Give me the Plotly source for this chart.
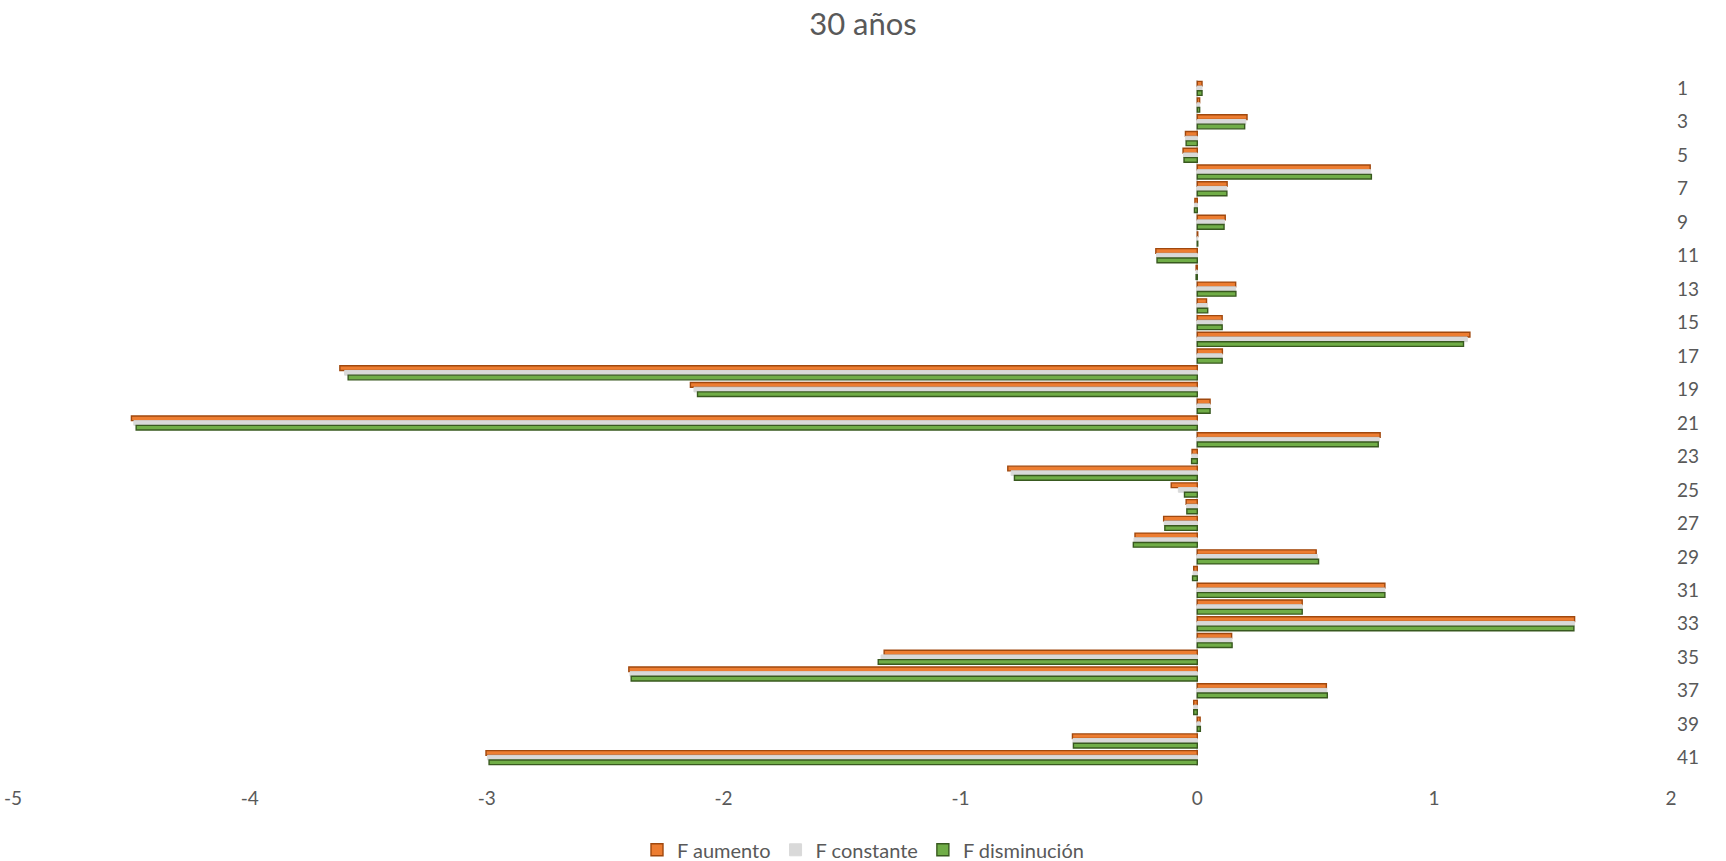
import plotly.graph_objects as go

categories = list(range(1, 42))

f_aumento = [0.02, 0.01, 0.21, -0.05, -0.06, 0.73, 0.126, -0.01, 0.118, 0.002,
             -0.175, -0.005, 0.162, 0.039, 0.105, 1.151, 0.106, -3.62, -2.14, 0.054,
             -4.50, 0.772, -0.022, -0.80, -0.11, -0.047, -0.142, -0.263, 0.502, -0.015,
             0.792, 0.443, 1.593, 0.145, -1.322, -2.40, 0.545, -0.015, 0.012, -0.527,
             -3.003]
f_constante = [0.02, 0.01, 0.205, -0.05, -0.058, 0.732, 0.125, -0.011, 0.115, 0.002,
               -0.172, -0.005, 0.162, 0.042, 0.105, 1.14, 0.105, -3.60, -2.125, 0.054,
               -4.49, 0.768, -0.023, -0.786, -0.08, -0.045, -0.14, -0.267, 0.507, -0.018,
               0.792, 0.443, 1.592, 0.146, -1.335, -2.395, 0.547, -0.015, 0.012, -0.525,
               -2.997]
f_disminucion = [0.02, 0.01, 0.20, -0.047, -0.056, 0.735, 0.125, -0.012, 0.113, 0.002,
                 -0.17, -0.005, 0.163, 0.044, 0.105, 1.124, 0.105, -3.585, -2.11, 0.054,
                 -4.48, 0.764, -0.024, -0.772, -0.054, -0.044, -0.137, -0.27, 0.512, -0.02,
                 0.792, 0.443, 1.590, 0.147, -1.347, -2.39, 0.549, -0.015, 0.013, -0.523,
                 -2.99]

x_ticks = [-5, -4, -3, -2, -1, 0, 1, 2]
y_ticks = list(range(1, 42, 2))

FONT = "Lato, Carlito, Calibri, sans-serif"

fig = go.Figure()
fig.add_trace(go.Bar(y=categories, x=f_aumento, orientation="h", name="F aumento",
                     marker=dict(color="#ED7D31", line=dict(color="#A0480E", width=1.4))))
fig.add_trace(go.Bar(y=categories, x=f_constante, orientation="h", name="F constante",
                     marker=dict(color="#D9D9D9", line=dict(color="#D9D9D9", width=1))))
fig.add_trace(go.Bar(y=categories, x=f_disminucion, orientation="h", name="F disminución",
                     marker=dict(color="#70AD47", line=dict(color="#38591F", width=1.4))))

fig.update_layout(
    width=1726, height=861,
    paper_bgcolor="white", plot_bgcolor="white",
    barmode="group", bargap=0.16, bargroupgap=0.0,
    font=dict(family=FONT, color="#595959", size=18),
    title=dict(text="30 años", x=0.5, xanchor="center", y=0.972, yanchor="middle",
               font=dict(size=31, color="#595959", family=FONT)),
    margin=dict(l=13, r=55, t=80, b=95),
    showlegend=True,
    legend=dict(orientation="h", x=0.5, xanchor="center", xref="container",
                y=0.013, yanchor="middle", yref="container",
                font=dict(size=20, color="#595959"), traceorder="normal",
                itemwidth=30),
    xaxis=dict(range=[-5, 2], tickvals=x_ticks, ticktext=[str(v) for v in x_ticks],
               showgrid=False, zeroline=True, zerolinecolor="#D9D9D9", zerolinewidth=1.5,
               showline=False, ticks="", tickfont=dict(size=19, color="#595959"),
               ticklabelstandoff=19, automargin=False),
    yaxis=dict(range=[41.5, 0.5], tickvals=y_ticks, ticktext=[str(v) for v in y_ticks],
               side="right", showgrid=False, zeroline=False, showline=False, ticks="",
               tickfont=dict(size=19, color="#595959"), ticklabelstandoff=5,
               automargin=False),
)

fig.write_html("out.html", config={"displayModeBar": False},
               post_script="document.body.style.margin='0px';")
